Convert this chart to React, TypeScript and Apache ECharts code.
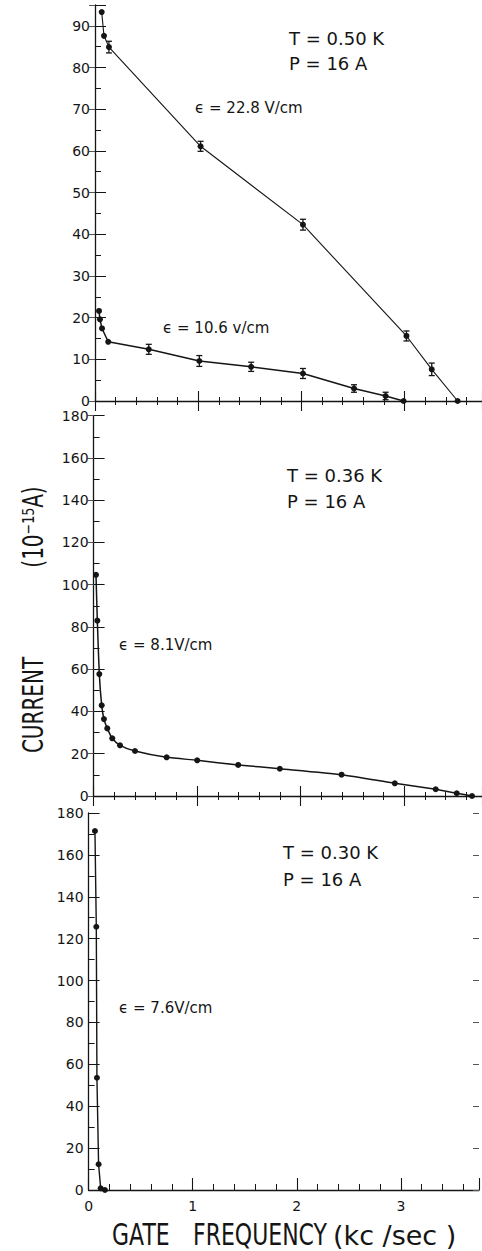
import React, { useEffect, useRef } from "react";
import * as echarts from "echarts";

// Panel 1 (T = 0.50 K): two fields
const xA = [0.065, 0.087, 0.135, 1.023, 2.015, 3.018, 3.263, 3.514];
const yA = [93.3, 87.6, 84.9, 61.1, 42.3, 15.6, 7.6, 0];
const eA = [0, 0, 1.4, 1.2, 1.3, 1.2, 1.5, 0];

const xB = [0.039, 0.048, 0.068, 0.128, 0.521, 1.011, 1.513, 2.015, 2.51, 2.816, 2.99];
const yB = [21.6, 19.6, 17.4, 14.2, 12.4, 9.6, 8.2, 6.6, 3.0, 1.2, 0];
const eB = [0, 0, 0, 0, 1.2, 1.3, 1.1, 1.2, 0.9, 0.9, 0];

// Panel 2 (T = 0.36 K)
const xC = [0.023, 0.036, 0.055, 0.078, 0.1, 0.132, 0.18, 0.255, 0.4, 0.705, 1.0, 1.396, 1.798, 2.394, 2.908, 3.303, 3.506, 3.654];
const yC = [104.7, 83, 57.7, 42.9, 36.4, 32.0, 27.3, 24.0, 21.3, 18.3, 16.9, 14.7, 12.9, 10.1, 6.0, 3.2, 1.3, 0];

// Panel 3 (T = 0.30 K)
const xD = [0.061, 0.074, 0.08, 0.096, 0.116, 0.157];
const yD = [171.4, 125.7, 53.6, 12.3, 0.8, 0];

const xTickLabels = ["0", "1", "2", "3"];

const FONT = "DejaVu Sans";
const INK = "#151515";

const pairs = (xs: number[], ys: number[]) => xs.map((x, i) => [x, ys[i]]);
const errs = (xs: number[], ys: number[], es: number[]) =>
  xs.map((x, i) => [x, ys[i], es[i]]).filter((d) => d[2] > 0);

export default function App() {
  const ref = useRef<HTMLDivElement>(null);
  useEffect(() => {
    if (!ref.current) return;
    const chart = echarts.init(ref.current, undefined, { renderer: "svg" });

    const grids = [
      { left: 95, top: 5, width: 388.5, height: 396 },
      { left: 93.6, top: 415.7, width: 388.7, height: 380.3 },
      { left: 88.6, top: 813, width: 392.6, height: 377 },
    ];

    const xBase = (gi: number, inside: boolean, showLine: boolean, labels: boolean, major: number, minor: number) => ({
      type: "value",
      gridIndex: gi,
      position: "bottom",
      min: 0,
      max: 3.75,
      interval: 1,
      axisLine: { show: showLine, lineStyle: { color: INK, width: 1.3 } },
      axisTick: { show: true, inside, length: major, lineStyle: { color: INK, width: 1.1 } },
      minorTick: { show: true, splitNumber: 5, length: minor, lineStyle: { color: INK, width: 1 } },
      splitLine: { show: false },
      axisLabel: labels
        ? {
            show: true,
            color: INK,
            fontFamily: FONT,
            fontSize: 14,
            lineHeight: 14,
            margin: 9,
            formatter: (v: number) => (Number.isInteger(v) ? xTickLabels[v] ?? "" : ""),
          }
        : { show: false },
    });

    const yLeft = (gi: number, max: number, interval: number, pad: number[]) => ({
      type: "value",
      gridIndex: gi,
      position: "left",
      min: 0,
      max,
      interval,
      axisLine: { show: true, lineStyle: { color: INK, width: 1.3 } },
      axisTick: { show: true, inside: true, length: 11, lineStyle: { color: INK, width: 1 } },
      minorTick: { show: true, splitNumber: 2, length: 6, lineStyle: { color: INK, width: 1 } },
      splitLine: { show: false },
      axisLabel: {
        color: INK,
        fontFamily: FONT,
        fontSize: 14,
        lineHeight: 13,
        margin: 5,
        padding: pad,
        formatter: (v: number) => (v % interval === 0 ? String(v) : ""),
      },
    });

    const yRight = (gi: number, max: number, interval: number) => ({
      type: "value",
      gridIndex: gi,
      position: "right",
      min: 0,
      max,
      interval,
      axisLine: { show: false },
      axisTick: { show: true, inside: true, length: 6, lineStyle: { color: "#555", width: 1 } },
      minorTick: { show: false },
      splitLine: { show: false },
      axisLabel: { show: false },
    });

    const lineSeries = (data: number[][], xi: number, yi: number, width: number, size: number) => ({
      type: "line",
      xAxisIndex: xi,
      yAxisIndex: yi,
      data,
      symbol: "circle",
      symbolSize: size,
      itemStyle: { color: INK },
      lineStyle: { color: INK, width },
      clip: false,
      z: 3,
    });

    const errSeries = (data: number[][], xi: number, yi: number) => ({
      type: "custom",
      xAxisIndex: xi,
      yAxisIndex: yi,
      data,
      encode: { x: 0, y: 1 },
      z: 4,
      renderItem: (_p: any, api: any) => {
        const x = api.value(0);
        const y = api.value(1);
        const e = api.value(2);
        const t = api.coord([x, y + e]);
        const b = api.coord([x, y - e]);
        const st = { stroke: INK, lineWidth: 1.3 };
        return {
          type: "group",
          children: [
            { type: "line", shape: { x1: t[0], y1: t[1], x2: b[0], y2: b[1] }, style: st },
            { type: "line", shape: { x1: t[0] - 3, y1: t[1], x2: t[0] + 3, y2: t[1] }, style: st },
            { type: "line", shape: { x1: b[0] - 3, y1: b[1], x2: b[0] + 3, y2: b[1] }, style: st },
          ],
        };
      },
    });

    const txt = (x: number, y: number, text: string, size: number, extra: any = {}) => ({
      type: "text",
      x,
      y,
      ...extra,
      style: {
        text,
        fill: INK,
        font: `${size}px "${FONT}"`,
        textVerticalAlign: "middle",
        ...(extra.style || {}),
      },
    });

    chart.setOption({
      animation: false,
      backgroundColor: "#ffffff",
      grid: grids,
      xAxis: [
        xBase(0, true, true, false, 10, 4),
        xBase(0, false, false, false, 10, 4),
        xBase(1, true, true, false, 10, 4),
        xBase(1, false, false, false, 10, 4),
        xBase(2, true, true, true, 12, 6),
      ],
      yAxis: [
        yLeft(0, 95, 10, [0, 0, 3, 0]),
        yRight(0, 95, 10),
        yLeft(1, 180, 20, [4, 0, 0, 0]),
        yRight(1, 180, 20),
        yLeft(2, 180, 20, [2, 0, 0, 0]),
        yRight(2, 180, 20),
      ],
      series: [
        lineSeries(pairs(xA, yA), 0, 0, 1.1, 6),
        errSeries(errs(xA, yA, eA), 0, 0),
        lineSeries(pairs(xB, yB), 0, 0, 1.5, 6),
        errSeries(errs(xB, yB, eB), 0, 0),
        { ...lineSeries(pairs(xC, yC), 2, 2, 1.5, 6), smooth: 0.2 },
        lineSeries(pairs(xD, yD), 4, 4, 1.4, 6),
      ],
      graphic: [
        txt(289, 38, "T = 0.50 K", 18),
        txt(289, 63, "P = 16 A", 18),
        txt(195, 108, "ϵ = 22.8 V/cm", 15),
        txt(163, 328, "ϵ = 10.6 v/cm", 15),
        txt(287, 475, "T = 0.36 K", 18),
        txt(287, 501, "P = 16 A", 18),
        txt(119, 645, "ϵ = 8.1V/cm", 15),
        txt(283, 852, "T = 0.30 K", 18),
        txt(283, 879, "P = 16 A", 18),
        txt(119, 1008, "ϵ = 7.6V/cm", 15),
        txt(112, 1235, "GATE", 22, { scaleY: 1.35 }),
        txt(193, 1235, "FREQUENCY", 22, { scaleY: 1.35 }),
        txt(333, 1235, "(kc /sec )", 27),
        txt(33, 705, "CURRENT", 20, { rotation: Math.PI / 2, scaleY: 1.4, style: { textAlign: "center" } }),
        txt(33, 527, "(10⁻¹⁵A)", 20, { rotation: Math.PI / 2, scaleY: 1.4, style: { textAlign: "center" } }),
      ],
    });
    return () => chart.dispose();
  }, []);
  return <div ref={ref} style={{ position: "fixed", left: 0, top: 0, width: 482, height: 1251 }} />;
}
